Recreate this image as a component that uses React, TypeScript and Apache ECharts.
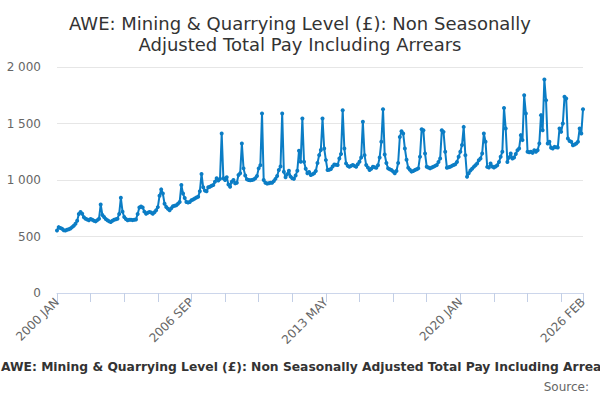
import React, { useEffect, useRef } from "react";
import * as echarts from "echarts";

const years = [2000, 2001, 2002, 2003, 2004, 2005, 2006, 2007, 2008, 2009, 2010, 2011, 2012, 2013, 2014, 2015, 2016, 2017, 2018, 2019, 2020, 2021, 2022, 2023, 2024, 2025, 2026];
const monthNames = ["JAN", "FEB", "MAR", "APR", "MAY", "JUN", "JUL", "AUG", "SEP", "OCT", "NOV", "DEC"];
const lastMonthCount = 2; // 2026 has JAN, FEB

const values2000 = [554, 583, 575, 568, 556, 554, 560, 565, 570, 583, 595, 613];
const values2001 = [640, 700, 717, 702, 670, 658, 650, 643, 655, 649, 640, 634];
const values2002 = [645, 658, 783, 690, 673, 655, 643, 635, 628, 640, 649, 652];
const values2003 = [658, 700, 842, 720, 673, 655, 643, 648, 649, 645, 648, 650];
const values2004 = [700, 756, 765, 756, 720, 702, 710, 717, 712, 702, 715, 732];
const values2005 = [760, 860, 917, 880, 790, 762, 745, 732, 750, 768, 772, 777];
const values2006 = [790, 806, 955, 880, 840, 806, 800, 806, 821, 828, 836, 845];
const values2007 = [851, 900, 1053, 935, 906, 900, 935, 940, 950, 956, 985, 1015];
const values2008 = [995, 1010, 1412, 1015, 1000, 1024, 960, 941, 985, 1000, 970, 975];
const values2009 = [1044, 1060, 1323, 1103, 1040, 1006, 1000, 998, 1000, 1005, 1015, 1035];
const values2010 = [1103, 1130, 1588, 1000, 975, 968, 972, 976, 975, 990, 1010, 1035];
const values2011 = [1088, 1120, 1588, 1073, 1024, 1050, 1082, 1030, 1015, 1010, 1040, 1082];
const values2012 = [1259, 1162, 1544, 1162, 1100, 1059, 1070, 1045, 1050, 1060, 1080, 1150];
const values2013 = [1220, 1265, 1544, 1279, 1176, 1088, 1090, 1097, 1120, 1138, 1135, 1132];
const values2014 = [1191, 1230, 1617, 1279, 1147, 1125, 1118, 1125, 1132, 1125, 1118, 1140];
const values2015 = [1162, 1200, 1515, 1220, 1132, 1110, 1088, 1100, 1118, 1112, 1109, 1130];
const values2016 = [1200, 1338, 1626, 1226, 1150, 1103, 1095, 1088, 1075, 1059, 1080, 1150];
const values2017 = [1380, 1432, 1412, 1279, 1180, 1109, 1090, 1074, 1080, 1088, 1095, 1103];
const values2018 = [1206, 1450, 1441, 1235, 1118, 1110, 1103, 1110, 1118, 1125, 1132, 1160];
const values2019 = [1191, 1441, 1426, 1250, 1109, 1112, 1118, 1125, 1132, 1140, 1160, 1206];
const values2020 = [1250, 1309, 1470, 1220, 1029, 1060, 1085, 1100, 1116, 1130, 1146, 1175];
const values2021 = [1190, 1235, 1411, 1338, 1116, 1110, 1146, 1120, 1110, 1120, 1131, 1160];
const values2022 = [1205, 1250, 1638, 1456, 1160, 1200, 1235, 1190, 1200, 1230, 1264, 1279];
const values2023 = [1397, 1353, 1750, 1588, 1250, 1245, 1250, 1240, 1264, 1250, 1264, 1323];
const values2024 = [1574, 1441, 1890, 1706, 1323, 1338, 1285, 1279, 1293, 1290, 1287, 1456];
const values2025 = [1426, 1500, 1736, 1721, 1367, 1345, 1338, 1308, 1315, 1323, 1338, 1456];
const values2026 = [1411, 1627];

const yTicks = [0, 500, 1000, 1500, 2000];

const titleText = "AWE: Mining & Quarrying Level (£): Non Seasonally\nAdjusted Total Pay Including Arrears";
const captionText = "AWE: Mining & Quarrying Level (£): Non Seasonally Adjusted Total Pay Including Arrears";
const sourceText = "Source:";

const FONT = "'DejaVu Sans', Verdana, sans-serif";

function buildCategories(): string[] {
  const out: string[] = [];
  years.forEach((y, yi) => {
    const n = yi === years.length - 1 ? lastMonthCount : 12;
    for (let m = 0; m < n; m++) out.push(`${y} ${monthNames[m]}`);
  });
  return out;
}

function fmtThousands(v: number): string {
  if (v >= 1000) {
    const th = Math.floor(v / 1000);
    const rest = String(v % 1000).padStart(3, "0");
    return `${th} ${rest}`;
  }
  return String(v);
}

export default function App() {
  const ref = useRef<HTMLDivElement>(null);

  useEffect(() => {
    document.body.style.margin = "0";
    if (!ref.current) return;
    const chart = echarts.init(ref.current, undefined, { renderer: "svg" });
    const categories = buildCategories();
    const data = [
      ...values2000, ...values2001, ...values2002, ...values2003, ...values2004,
      ...values2005, ...values2006, ...values2007, ...values2008, ...values2009,
      ...values2010, ...values2011, ...values2012, ...values2013, ...values2014,
      ...values2015, ...values2016, ...values2017, ...values2018, ...values2019,
      ...values2020, ...values2021, ...values2022, ...values2023, ...values2024,
      ...values2025, ...values2026,
    ];
    const last = categories.length - 1;

    chart.setOption({
      animation: false,
      backgroundColor: "#ffffff",
      title: {
        text: titleText,
        left: "center",
        top: 8,
        textStyle: {
          fontFamily: FONT,
          fontSize: 18,
          fontWeight: "normal",
          color: "#333333",
          lineHeight: 21,
        },
      },
      grid: { left: 57, right: 17, top: 67, bottom: 107, containLabel: false },
      xAxis: {
        type: "category",
        data: categories,
        boundaryGap: false,
        axisLine: { show: true, lineStyle: { color: "#ccd6eb", width: 1 } },
        axisTick: {
          show: true,
          length: 9,
          interval: (i: number) => i % 20 === 0 || i === last,
          lineStyle: { color: "#c3cfe6", width: 1 },
        },
        axisLabel: {
          interval: (i: number) => i % 80 === 0 || i === last,
          rotate: 45,
          fontFamily: FONT,
          fontSize: 12,
          color: "#666666",
          margin: 7,
        },
        splitLine: { show: false },
      },
      yAxis: {
        type: "value",
        min: yTicks[0],
        max: yTicks[yTicks.length - 1],
        interval: 500,
        axisLine: { show: false },
        axisTick: { show: false },
        axisLabel: {
          formatter: (v: number) => fmtThousands(v),
          fontFamily: FONT,
          fontSize: 12,
          color: "#666666",
          margin: 16,
        },
        splitLine: { show: true, lineStyle: { color: "#e6e6e6", width: 1 } },
      },
      series: [
        {
          type: "line",
          data,
          symbol: "circle",
          symbolSize: 4,
          showSymbol: true,
          showAllSymbol: true,
          lineStyle: { color: "#0b7dc5", width: 2 },
          itemStyle: { color: "#0b7dc5" },
        },
      ],
      graphic: [
        {
          type: "text",
          left: 1,
          top: 361,
          style: {
            text: captionText,
            fontFamily: FONT,
            fontSize: 12.3,
            fontWeight: "bold",
            fill: "#333333",
          },
        },
        {
          type: "text",
          right: 11,
          top: 381,
          style: {
            text: sourceText,
            fontFamily: FONT,
            fontSize: 12,
            fill: "#666666",
          },
        },
      ],
    });

    return () => chart.dispose();
  }, []);

  return <div ref={ref} style={{ width: 600, height: 400 }} />;
}
